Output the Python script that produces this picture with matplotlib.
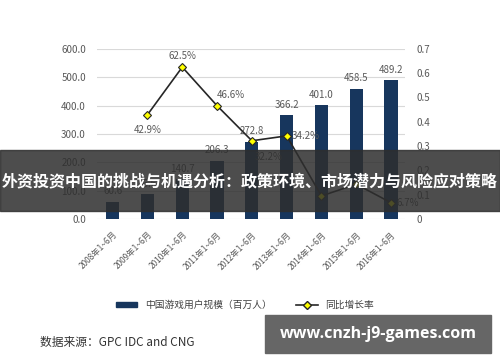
import matplotlib.pyplot as plt
import numpy as np
from matplotlib.patches import Rectangle
from matplotlib.lines import Line2D

plt.rcParams['font.family'] = ['Noto Sans CJK SC', 'DejaVu Sans']

# data
years = ["2008年1~6月", "2009年1~6月", "2010年1~6月", "2011年1~6月", "2012年1~6月",
         "2013年1~6月", "2014年1~6月", "2015年1~6月", "2016年1~6月"]
users = [60.6, 86.6, 140.7, 206.3, 272.8, 366.2, 401.0, 458.5, 489.2]
growth = [None, 0.429, 0.625, 0.466, 0.322, 0.342, 0.095, 0.143, 0.067]
# labels of 2014/2015 are hidden behind the banner in the picture
growth_labels = ["", "42.9%", "62.5%", "46.6%", "32.2%", "34.2%", "", "", "6.7%"]
# label offsets in points (dx, dy)
label_off = [(0, 0), (0, -11), (0, 8), (10, 8), (12, -12), (14, 0), (12, 0), (12, 0), (12, 0)]

navy = "#17365d"
grey = "#595959"

fig = plt.figure(figsize=(5, 3.62), dpi=100)
ax = fig.add_axes([0.194, 0.395, 0.616, 0.47])
x = np.arange(len(years))

ax.bar(x, users, width=0.38, color=navy, zorder=2)
for xi, v in zip(x, users):
    ax.annotate("%.1f" % v, (xi, v), xytext=(0, 4), textcoords="offset points",
                ha="center", va="bottom", fontsize=7, color=grey)
ax.set_ylim(0, 600)
ax.set_yticks(np.arange(0, 601, 100))
ax.set_yticklabels(["%.1f" % t for t in np.arange(0, 601, 100)], fontsize=7, color=grey)
ax.set_xlim(-0.45, len(years) - 0.6)
ax.grid(axis="y", color="#d9d9d9", lw=0.8, zorder=0)
ax.set_xticks(x)
ax.set_xticklabels(years, rotation=45, ha="right", rotation_mode="anchor", fontsize=6, color=grey)
ax.tick_params(length=0, pad=8)
for s in ax.spines.values():
    s.set_visible(False)

ax2 = ax.twinx()
gx = [xi for xi, g in zip(x, growth) if g is not None]
gy = [g for g in growth if g is not None]
ax2.plot(gx, gy, color="#262626", lw=1.2, marker="D", ms=4.5, mfc="#ffff00", mec="#262626", mew=0.8, zorder=3)
for xi, g, lab, off in zip(x, growth, growth_labels, label_off):
    if g is None or not lab:
        continue
    ax2.annotate(lab, (xi, g), xytext=off, textcoords="offset points",
                 ha="center", va="center", fontsize=7, color=grey)
ax2.set_ylim(0, 0.7)
ax2.set_yticks(np.arange(0, 0.71, 0.1))
ax2.set_yticklabels(["0"] + ["%.1f" % t for t in np.arange(0.1, 0.71, 0.1)], fontsize=7, color=grey)
ax2.tick_params(length=0, pad=8)
for s in ax2.spines.values():
    s.set_visible(False)

# legend
handles = [Rectangle((0, 0), 1, 1, color=navy),
           Line2D([], [], color="#262626", lw=1.2, marker="D", ms=4, mfc="#ffff00", mec="#262626")]
fig.legend(handles, ["中国游戏用户规模（百万人）", "同比增长率"], loc="center",
           bbox_to_anchor=(0.49, 0.157), ncol=2, frameon=False, fontsize=7,
           handlelength=2.2, handleheight=0.4, columnspacing=2.5, labelcolor="#404040")

# overlay banner
fig.patches.append(Rectangle((0, 1 - 211 / 362), 1, 61 / 362, transform=fig.transFigure,
                             color="#2e2e2e", alpha=0.85, zorder=5))
fig.text(0.5, 1 - 181 / 362, "外资投资中国的挑战与机遇分析：政策环境、市场潜力与风险应对策略",
         ha="center", va="center", color="white", fontsize=11.5, fontweight="bold", zorder=6)

# source
fig.text(0.08, 1 - 342 / 362, "数据来源：GPC IDC and CNG", ha="left", va="center",
         fontsize=8.5, color="#333333")

# watermark box
fig.patches.append(Rectangle((265 / 500, 1 - 353 / 362), 226 / 500, 38 / 362,
                             transform=fig.transFigure, color="#666666", zorder=5))
fig.text(378 / 500, 1 - 334 / 362, "www.cnzh-j9-games.com", ha="center", va="center",
         color="white", fontsize=11.5, fontweight="bold", family="Open Sans", zorder=6)

fig.savefig("out.png", dpi=100)
